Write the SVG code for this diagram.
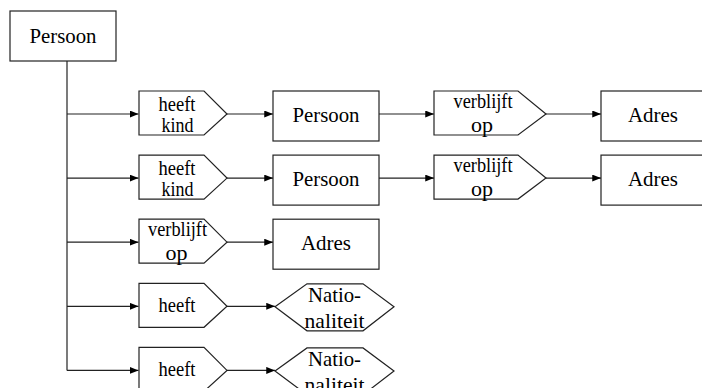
<svg xmlns="http://www.w3.org/2000/svg" width="702" height="388" viewBox="0 0 702 388">
<style>
.s{fill:#fff;stroke:#222;stroke-width:1.2}
.c{fill:none;stroke:#222;stroke-width:1.2}
text{fill:#000;text-anchor:middle;font-family:"Liberation Serif","Times New Roman",serif}
.b{font-size:21px}
.l{font-size:20px}
</style>
<defs>
<marker id="a" viewBox="0 0 10 8" refX="10" refY="4" markerWidth="9" markerHeight="7" markerUnits="userSpaceOnUse" orient="auto">
<path d="M0,0 L10,4 L0,8 Z" fill="#000"/>
</marker>
</defs>
<rect width="702" height="388" fill="#fff"/>
<g id="connectors" class="c">
<path d="M67,61 V370.4"/>
<path d="M67,114 H138.5" marker-end="url(#a)"/>
<path d="M67,178.1 H138.5" marker-end="url(#a)"/>
<path d="M67,242.2 H138.5" marker-end="url(#a)"/>
<path d="M67,306.3 H138.5" marker-end="url(#a)"/>
<path d="M67,370.4 H138.5" marker-end="url(#a)"/>
<path d="M227,114 H273" marker-end="url(#a)"/>
<path d="M227,178.1 H273" marker-end="url(#a)"/>
<path d="M227,242.2 H273" marker-end="url(#a)"/>
<path d="M227,306.3 H275" marker-end="url(#a)"/>
<path d="M227,370.4 H275" marker-end="url(#a)"/>
<path d="M379,114 H434" marker-end="url(#a)"/>
<path d="M379,178.1 H434" marker-end="url(#a)"/>
<path d="M546,114 H601" marker-end="url(#a)"/>
<path d="M546,178.1 H601" marker-end="url(#a)"/>
</g>
<g id="persoon-root">
<rect class="s" x="10" y="11" width="106" height="50"/>
<text class="b" x="63" y="43" textLength="67" lengthAdjust="spacingAndGlyphs">Persoon</text>
</g>
<g id="heeft-kind-1">
<path class="s" d="M139,91 H204 L227,114 L204,135 H139 Z"/>
<text class="l" x="177" y="110.5" textLength="37" lengthAdjust="spacingAndGlyphs">heeft</text>
<text class="l" x="177.5" y="131.5" textLength="32" lengthAdjust="spacingAndGlyphs">kind</text>
</g>
<g id="persoon-1">
<rect class="s" x="273" y="91" width="106" height="50"/>
<text class="b" x="326" y="122" textLength="67" lengthAdjust="spacingAndGlyphs">Persoon</text>
</g>
<g id="verblijft-op-1">
<path class="s" d="M434,91 H518 L546,114 L518,135 H434 Z"/>
<text class="l" x="483" y="108" textLength="59" lengthAdjust="spacingAndGlyphs">verblijft</text>
<text class="b" x="482" y="131.5" textLength="22" lengthAdjust="spacingAndGlyphs">op</text>
</g>
<g id="adres-1">
<rect class="s" x="601" y="91" width="106" height="50"/>
<text class="b" x="653" y="122" textLength="50" lengthAdjust="spacingAndGlyphs">Adres</text>
</g>
<g id="heeft-kind-2">
<path class="s" d="M139,155.1 H204 L227,178.1 L204,199.1 H139 Z"/>
<text class="l" x="177" y="174.6" textLength="37" lengthAdjust="spacingAndGlyphs">heeft</text>
<text class="l" x="177.5" y="195.6" textLength="32" lengthAdjust="spacingAndGlyphs">kind</text>
</g>
<g id="persoon-2">
<rect class="s" x="273" y="155.1" width="106" height="50"/>
<text class="b" x="326" y="186.1" textLength="67" lengthAdjust="spacingAndGlyphs">Persoon</text>
</g>
<g id="verblijft-op-2">
<path class="s" d="M434,155.1 H518 L546,178.1 L518,199.1 H434 Z"/>
<text class="l" x="483" y="172.1" textLength="59" lengthAdjust="spacingAndGlyphs">verblijft</text>
<text class="b" x="482" y="195.6" textLength="22" lengthAdjust="spacingAndGlyphs">op</text>
</g>
<g id="adres-2">
<rect class="s" x="601" y="155.1" width="106" height="50"/>
<text class="b" x="653" y="186.1" textLength="50" lengthAdjust="spacingAndGlyphs">Adres</text>
</g>
<g id="verblijft-op-3">
<path class="s" d="M139,219.2 H204 L227,242.2 L204,263.2 H139 Z"/>
<text class="l" x="177.5" y="236.2" textLength="59" lengthAdjust="spacingAndGlyphs">verblijft</text>
<text class="b" x="176.5" y="259.7" textLength="22" lengthAdjust="spacingAndGlyphs">op</text>
</g>
<g id="adres-3">
<rect class="s" x="273" y="219.2" width="106" height="50"/>
<text class="b" x="326" y="250.2" textLength="50" lengthAdjust="spacingAndGlyphs">Adres</text>
</g>
<g id="heeft-4">
<path class="s" d="M139,283.3 H204 L227,306.3 L204,327.3 H139 Z"/>
<text class="l" x="177" y="311.7" textLength="37" lengthAdjust="spacingAndGlyphs">heeft</text>
</g>
<g id="nationaliteit-4">
<path class="s" d="M275,306.8 L307,283.8 H363 L394,306.8 L363,330.8 H307 Z"/>
<text class="b" x="334.5" y="301.7" textLength="53" lengthAdjust="spacingAndGlyphs">Natio-</text>
<text class="b" x="334.5" y="328.3" textLength="60" lengthAdjust="spacingAndGlyphs">naliteit</text>
</g>
<g id="heeft-5">
<path class="s" d="M139,347.4 H204 L227,370.4 L204,391.4 H139 Z"/>
<text class="l" x="177" y="375.8" textLength="37" lengthAdjust="spacingAndGlyphs">heeft</text>
</g>
<g id="nationaliteit-5">
<path class="s" d="M275,370.9 L307,347.9 H363 L394,370.9 L363,394.9 H307 Z"/>
<text class="b" x="334.5" y="365.8" textLength="53" lengthAdjust="spacingAndGlyphs">Natio-</text>
<text class="b" x="334.5" y="392.4" textLength="60" lengthAdjust="spacingAndGlyphs">naliteit</text>
</g>
</svg>
